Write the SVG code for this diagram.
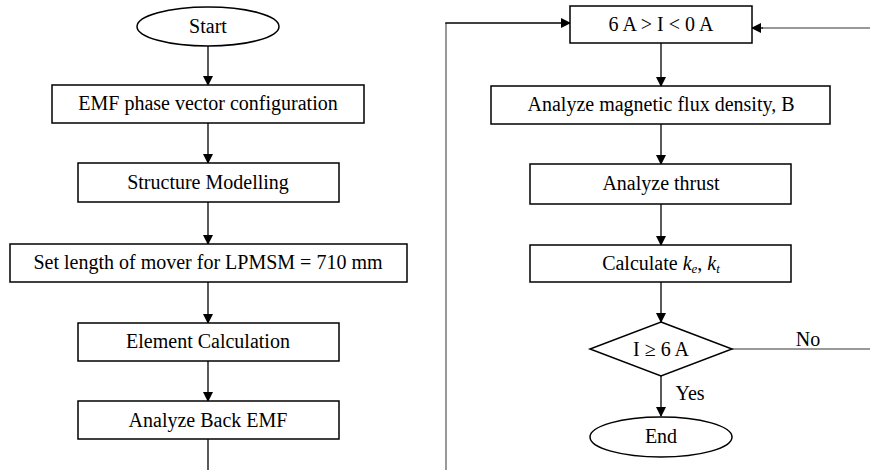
<svg xmlns="http://www.w3.org/2000/svg" width="870" height="470" viewBox="0 0 870 470">
<style>
.b{fill:#fff;stroke:#000;stroke-width:1.5}
.t{font-family:"Liberation Serif","Times New Roman",serif;font-size:20px;fill:#000;text-anchor:middle}
.c{fill:none;stroke:#000;stroke-width:1.3}
.g{fill:none;stroke:#777;stroke-width:1.5}
</style>
<defs>
<marker id="a" markerWidth="10" markerHeight="10" refX="9" refY="5" orient="auto" markerUnits="userSpaceOnUse">
<path d="M0,0 L10,5 L0,10 Z" fill="#000"/>
</marker>
</defs>
<rect width="870" height="470" fill="#fff"/>
<g id="connectors">
<line class="c" x1="208" y1="46" x2="208" y2="85" marker-end="url(#a)"/>
<line class="c" x1="208" y1="123" x2="208" y2="163" marker-end="url(#a)"/>
<line class="c" x1="208" y1="202" x2="208" y2="244" marker-end="url(#a)"/>
<line class="c" x1="208" y1="282" x2="208" y2="323" marker-end="url(#a)"/>
<line class="c" x1="208" y1="361" x2="208" y2="401" marker-end="url(#a)"/>
<line class="c" x1="208" y1="439" x2="208" y2="470"/>
<line class="g" x1="446" y1="470" x2="446" y2="23"/>
<polyline class="c" points="445.3,23 570,23" marker-end="url(#a)"/>
<line class="g" x1="870" y1="28" x2="762" y2="28"/>
<line class="c" x1="763" y1="28" x2="752" y2="28" marker-end="url(#a)"/>
<line class="c" x1="661" y1="43" x2="661" y2="86" marker-end="url(#a)"/>
<line class="c" x1="661" y1="124" x2="661" y2="164" marker-end="url(#a)"/>
<line class="c" x1="661" y1="204" x2="661" y2="245" marker-end="url(#a)"/>
<line class="c" x1="661" y1="282" x2="661" y2="322" marker-end="url(#a)"/>
<line class="c" x1="661" y1="376" x2="661" y2="416" marker-end="url(#a)"/>
<line class="g" x1="732" y1="349" x2="870" y2="349"/>
<text class="t" x="808" y="346">No</text>
<text class="t" x="690" y="400">Yes</text>
</g>
<g id="start">
<ellipse class="b" cx="208" cy="26.5" rx="71" ry="19.5"/>
<text class="t" x="208" y="33">Start</text>
</g>
<g id="emf">
<rect class="b" x="52" y="85" width="312" height="38"/>
<text class="t" x="208" y="110">EMF phase vector configuration</text>
</g>
<g id="structure">
<rect class="b" x="78" y="163" width="261" height="39"/>
<text class="t" x="208" y="189">Structure Modelling</text>
</g>
<g id="setlength">
<rect class="b" x="10" y="244" width="397" height="38"/>
<text class="t" x="208" y="269">Set length of mover for LPMSM = 710 mm</text>
</g>
<g id="element">
<rect class="b" x="78" y="323" width="261" height="38"/>
<text class="t" x="208" y="348">Element Calculation</text>
</g>
<g id="backemf">
<rect class="b" x="78" y="401" width="261" height="38"/>
<text class="t" x="208" y="427">Analyze Back EMF</text>
</g>
<g id="current">
<rect class="b" x="570" y="6" width="182" height="37"/>
<text class="t" x="661" y="31">6 A &gt; I &lt; 0 A</text>
</g>
<g id="flux">
<rect class="b" x="491" y="86" width="339" height="38"/>
<text class="t" x="661" y="111">Analyze magnetic flux density, B</text>
</g>
<g id="thrust">
<rect class="b" x="530" y="164" width="261" height="40"/>
<text class="t" x="661" y="190">Analyze thrust</text>
</g>
<g id="calc">
<rect class="b" x="530" y="245" width="261" height="37"/>
<text class="t" x="661" y="270">Calculate <tspan font-style="italic">k</tspan><tspan font-style="italic" font-size="13" dy="3">e</tspan><tspan dy="-3">, </tspan><tspan font-style="italic">k</tspan><tspan font-style="italic" font-size="13" dy="3">t</tspan></text>
</g>
<g id="decision">
<polygon class="b" points="661,322 732,349 661,376 590,349"/>
<text class="t" x="661" y="356">I ≥ 6 A</text>
</g>
<g id="end">
<ellipse class="b" cx="661" cy="437" rx="71" ry="20"/>
<text class="t" x="661" y="443">End</text>
</g>
</svg>
